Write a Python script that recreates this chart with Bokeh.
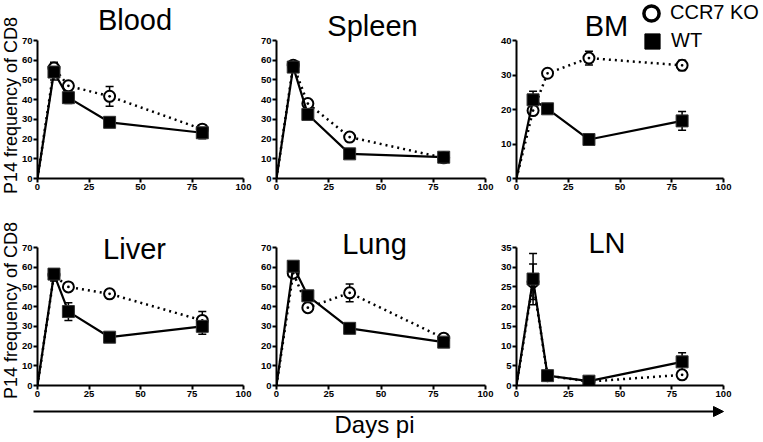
import math
from bokeh.plotting import figure
from bokeh.models import (Range1d, FixedTicker, Label, Legend, LegendItem, Whisker,
                          TeeHead, ColumnDataSource, Arrow, NormalHead, GridBox)
from bokeh.layouts import column, row
from bokeh.embed import file_html
from bokeh.resources import INLINE

FONT = "Liberation Sans"

# ---------------- data ----------------
days = [0, 8, 15, 35, 80]
x_ticks = [0, 25, 50, 75, 100]
y_ticks_70 = [0, 10, 20, 30, 40, 50, 60, 70]
y_ticks_40 = [0, 10, 20, 30, 40]
y_ticks_35 = [0, 5, 10, 15, 20, 25, 30, 35]

blood_wt = [0, 54, 41, 28.5, 23.2]
blood_wt_err = [0, 4, 3, 2, 3]
blood_ko = [0, 56, 47, 41.7, 25]
blood_ko_err = [0, 3, 1.5, 5, 2]

spleen_wt = [0, 56.5, 32.5, 12.5, 10.8]
spleen_wt_err = [0, 2, 1.5, 1, 1.5]
spleen_ko = [0, 57.5, 38, 21, 10.5]
spleen_ko_err = [0, 1.5, 1.5, 2, 1]

bm_wt = [0, 22.8, 20.2, 11.3, 16.7]
bm_wt_err = [0, 2.5, 0.8, 0.8, 2.7]
bm_ko = [0, 19.7, 30.5, 34.9, 32.8]
bm_ko_err = [0, 1, 0.8, 2, 1.5]

liver_wt = [0, 56.5, 37.5, 24.5, 30]
liver_wt_err = [0, 2, 4.5, 1, 4]
liver_ko = [0, 56, 50, 46.5, 33]
liver_ko_err = [0, 3, 1, 1, 4.5]

lung_wt = [0, 60.5, 45.5, 29, 22]
lung_wt_err = [0, 2, 1.5, 1, 1.5]
lung_ko = [0, 57, 39.5, 47, 24]
lung_ko_err = [0, 2, 1.5, 4.5, 1]

ln_wt = [0, 27, 2.5, 1.1, 6]
ln_wt_err = [0, 6.5, 0.8, 0.5, 2.3]
ln_ko = [0, 26.3, 2.5, 1, 2.7]
ln_ko_err = [0, 4.5, 0.5, 0.3, 0.5]

titles = ["Blood", "Spleen", "BM", "Liver", "Lung", "LN"]
legend_labels = ["CCR7 KO", "WT"]
y_label_text = "P14 frequency of CD8"
x_label_text = "Days pi"

panels = [
    dict(wt=blood_wt, wt_err=blood_wt_err, ko=blood_ko, ko_err=blood_ko_err, ymax=70, yt=y_ticks_70),
    dict(wt=spleen_wt, wt_err=spleen_wt_err, ko=spleen_ko, ko_err=spleen_ko_err, ymax=70, yt=y_ticks_70),
    dict(wt=bm_wt, wt_err=bm_wt_err, ko=bm_ko, ko_err=bm_ko_err, ymax=40, yt=y_ticks_40),
    dict(wt=liver_wt, wt_err=liver_wt_err, ko=liver_ko, ko_err=liver_ko_err, ymax=70, yt=y_ticks_70),
    dict(wt=lung_wt, wt_err=lung_wt_err, ko=lung_ko, ko_err=lung_ko_err, ymax=70, yt=y_ticks_70),
    dict(wt=ln_wt, wt_err=ln_wt_err, ko=ln_ko, ko_err=ln_ko_err, ymax=35, yt=y_ticks_35),
]

# ---------------- layout geometry (pixels) ----------------
W, H = 763, 442
col_geom = [dict(w=254, l=37, r=11), dict(w=243, l=22, r=12), dict(w=266, l=18, r=40)]
row_geom = [dict(h=212, t=40, b=34), dict(h=230, t=35, b=57)]
# title anchor (centre x, text y) in page pixels
title_pos = [(134.5, 19.5), (372, 25), (606, 25), (134, 248), (374, 243), (606.5, 242.5)]


def make_panel(cfg, cg, rg):
    p = figure(width=cg["w"], height=rg["h"], x_range=Range1d(0, 100), y_range=Range1d(0, cfg["ymax"]),
               output_backend="svg", toolbar_location=None, tools="",
               min_border_left=cg["l"], min_border_right=cg["r"],
               min_border_top=rg["t"], min_border_bottom=rg["b"])
    p.outline_line_color = None
    p.xgrid.visible = False
    p.ygrid.visible = False
    p.background_fill_color = "white"
    p.border_fill_color = "white"
    p.xaxis.ticker = FixedTicker(ticks=x_ticks)
    p.yaxis.ticker = FixedTicker(ticks=cfg["yt"])
    for ax in (p.xaxis, p.yaxis):
        ax.axis_line_width = 2
        ax.axis_line_color = "black"
        ax.major_tick_line_width = 2
        ax.major_tick_line_color = "black"
        ax.major_tick_in = 0
        ax.major_tick_out = 4
        ax.minor_tick_line_color = None
        ax.major_label_text_font = FONT
        ax.major_label_text_font_style = "bold"
        ax.major_label_text_font_size = "9.5px"
        ax.major_label_text_color = "black"
        ax.major_label_standoff = 1

    # CCR7 KO series
    p.line(days, cfg["ko"], line_color="black", line_width=2.5, line_dash="2 4")
    ko_src = ColumnDataSource(dict(
        x=days[1:],
        upper=[v + e for v, e in zip(cfg["ko"][1:], cfg["ko_err"][1:])],
        lower=[v - e for v, e in zip(cfg["ko"][1:], cfg["ko_err"][1:])]))
    p.add_layout(Whisker(source=ko_src, base="x", upper="upper", lower="lower",
                         line_color="black", line_width=1.5,
                         upper_head=TeeHead(size=8, line_width=1.5, line_color="black"),
                         lower_head=TeeHead(size=8, line_width=1.5, line_color="black")))
    p.scatter(days[1:], cfg["ko"][1:], marker="circle_dot", size=11, fill_color="white",
              line_color="black", line_width=2)

    # WT series
    p.line(days, cfg["wt"], line_color="black", line_width=2.2)
    wt_src = ColumnDataSource(dict(
        x=days[1:],
        upper=[v + e for v, e in zip(cfg["wt"][1:], cfg["wt_err"][1:])],
        lower=[v - e for v, e in zip(cfg["wt"][1:], cfg["wt_err"][1:])]))
    p.add_layout(Whisker(source=wt_src, base="x", upper="upper", lower="lower",
                         line_color="black", line_width=1.5,
                         upper_head=TeeHead(size=8, line_width=1.5, line_color="black"),
                         lower_head=TeeHead(size=8, line_width=1.5, line_color="black")))
    p.scatter(days[1:], cfg["wt"][1:], marker="square", size=12, fill_color="black",
              line_color="#333333", line_width=1)
    return p


figs = []
for i, cfg in enumerate(panels):
    r, c = divmod(i, 3)
    figs.append(make_panel(cfg, col_geom[c], row_geom[r]))
panel_block = column(row(*figs[:3]), row(*figs[3:]))

# ---------------- transparent overlay with all free text ----------------
ov = figure(width=W, height=H, x_range=Range1d(0, W), y_range=Range1d(H, 0),
            x_axis_type=None, y_axis_type=None, output_backend="svg",
            toolbar_location=None, tools="", min_border=0)
ov.outline_line_color = None
ov.background_fill_color = None
ov.border_fill_color = None

for t, (tx, ty) in zip(titles, title_pos):
    ov.add_layout(Label(x=tx, y=ty, text=t, text_align="center", text_baseline="alphabetic",
                        text_font=FONT, text_font_size="29px", text_color="black"))

for cy in (105, 310):
    ov.add_layout(Label(x=10, y=cy, text=y_label_text, angle=math.pi / 2,
                        text_align="center", text_baseline="alphabetic",
                        text_font=FONT, text_font_size="18px", text_color="black"))

# legend
nan = float("nan")
r_ko_leg = ov.scatter(x=[nan], y=[nan], marker="circle", size=15, fill_color="white",
                      line_color="black", line_width=3.5)
r_wt_leg = ov.scatter(x=[nan], y=[nan], marker="square", size=15, fill_color="black",
                      line_color="black", line_width=1)
for lab, rend, loc in ((legend_labels[0], r_ko_leg, (632, 410.5)),
                       (legend_labels[1], r_wt_leg, (633, 382.5))):
    ov.add_layout(Legend(items=[LegendItem(label=lab, renderers=[rend])], location=loc,
                         glyph_width=38, glyph_height=38, label_text_font=FONT,
                         label_text_font_size="20px", label_text_color="black", label_standoff=0,
                         padding=0, margin=0, spacing=0, border_line_color=None,
                         background_fill_alpha=0))

# x-axis arrow and label
ov.add_layout(Arrow(x_start=33, y_start=411, x_end=723, y_end=411, line_width=2, line_color="black",
                    end=NormalHead(size=10, fill_color="black", line_color="black")))
ov.add_layout(Label(x=374, y=424, text=x_label_text, text_align="center", text_baseline="alphabetic",
                    text_font=FONT, text_font_size="24px", text_color="black"))

layout = GridBox(children=[(panel_block, 0, 0), (ov, 0, 0)], spacing=0)
open("out.html", "w").write(file_html(layout, INLINE))
